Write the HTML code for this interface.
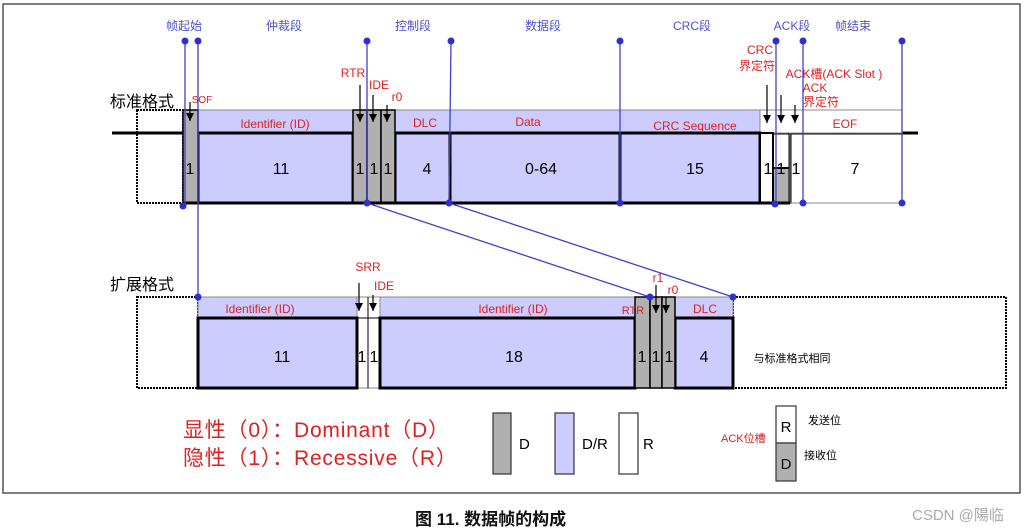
<!DOCTYPE html>
<html><head><meta charset="utf-8"><style>
html,body{margin:0;padding:0;background:#fff;}
svg{display:block;}
text{font-family:"Liberation Sans","Noto Sans CJK SC",sans-serif;}
</style></head><body>
<svg width="1027" height="531" viewBox="0 0 1027 531" xmlns="http://www.w3.org/2000/svg">
<defs><marker id="ar" markerWidth="8" markerHeight="8" refX="8" refY="4" orient="auto" markerUnits="userSpaceOnUse"><path d="M0,0 L8,4 L0,8 z" fill="#000"/></marker></defs>
<rect x="3" y="4" width="1017" height="489" fill="none" stroke="#555" stroke-width="1.5"/>

<g font-size="12" fill="#5050c8" text-anchor="middle">
<text x="184" y="30">帧起始</text><text x="284" y="30">仲裁段</text><text x="413" y="30">控制段</text>
<text x="543" y="30">数据段</text><text x="692" y="30">CRC段</text><text x="792" y="30">ACK段</text><text x="853" y="30">帧结束</text>
</g>
<text x="110" y="107" font-size="16" fill="#000">标准格式</text>
<text x="110" y="290" font-size="16" fill="#000">扩展格式</text>

<rect x="137" y="110" width="46" height="93" fill="#fff" stroke="#000" stroke-width="2" stroke-dasharray="2,1"/>
<line x1="112" y1="133" x2="918" y2="133" stroke="#000" stroke-width="3"/>
<rect x="198" y="110" width="155" height="23" fill="#ccccff" stroke="#888" stroke-width="1"/>
<rect x="395" y="110" width="365" height="23" fill="#ccccff" stroke="#888" stroke-width="1"/>
<rect x="760" y="110" width="142" height="23" fill="#fff" stroke="#888" stroke-width="1"/>
<rect x="198" y="133" width="155" height="70" fill="#ccccff" stroke="#000" stroke-width="3"/>
<rect x="395" y="133" width="55" height="70" fill="#ccccff" stroke="#000" stroke-width="3"/>
<rect x="450" y="133" width="170" height="70" fill="#ccccff" stroke="#000" stroke-width="3"/>
<rect x="620" y="133" width="140" height="70" fill="#ccccff" stroke="#000" stroke-width="3"/>
<rect x="183" y="110" width="15" height="93" fill="#b0b0b0" stroke="#000" stroke-width="1.5"/>
<rect x="353" y="110" width="14" height="93" fill="#b0b0b0" stroke="#000" stroke-width="1.5"/>
<rect x="367" y="110" width="14" height="93" fill="#b0b0b0" stroke="#000" stroke-width="1.5"/>
<rect x="381" y="110" width="14" height="93" fill="#b0b0b0" stroke="#000" stroke-width="1.5"/>
<rect x="760" y="133" width="13" height="70" fill="#fff" stroke="#000" stroke-width="2"/>
<rect x="773" y="168" width="17" height="35" fill="#b0b0b0" stroke="#000" stroke-width="2"/>
<line x1="773" y1="133" x2="773" y2="203" stroke="#000" stroke-width="2"/>
<line x1="790" y1="133" x2="790" y2="203" stroke="#000" stroke-width="3"/>
<rect x="790" y="133" width="112" height="70" fill="none" stroke="#888" stroke-width="1"/>
<line x1="183" y1="203" x2="790" y2="203" stroke="#000" stroke-width="3"/>

<rect x="137" y="297" width="61" height="91" fill="#fff" stroke="#000" stroke-width="2" stroke-dasharray="2,1"/>
<rect x="733" y="297" width="273" height="91" fill="#fff" stroke="#000" stroke-width="2" stroke-dasharray="2,1"/>
<rect x="198" y="297" width="535" height="91" fill="#fff" stroke="#888" stroke-width="1"/>
<rect x="198" y="297" width="159" height="21" fill="#ccccff" stroke="#888" stroke-width="1"/>
<rect x="380" y="297" width="255" height="21" fill="#ccccff" stroke="#888" stroke-width="1"/>
<rect x="675" y="297" width="58" height="21" fill="#ccccff" stroke="#888" stroke-width="1"/>
<rect x="198" y="318" width="159" height="70" fill="#ccccff" stroke="#000" stroke-width="3"/>
<rect x="380" y="318" width="255" height="70" fill="#ccccff" stroke="#000" stroke-width="3"/>
<rect x="675" y="318" width="58" height="70" fill="#ccccff" stroke="#000" stroke-width="3"/>
<line x1="368" y1="297" x2="368" y2="388" stroke="#000" stroke-width="1"/>
<line x1="357" y1="318" x2="380" y2="318" stroke="#000" stroke-width="1"/>
<rect x="635" y="297" width="15" height="91" fill="#b0b0b0" stroke="#000" stroke-width="1.5"/>
<rect x="650" y="297" width="12" height="91" fill="#b0b0b0" stroke="#000" stroke-width="1.5"/>
<rect x="662" y="297" width="13" height="91" fill="#b0b0b0" stroke="#000" stroke-width="1.5"/>

<g font-size="12" fill="#e02020" text-anchor="middle">
<text x="275" y="128">Identifier (ID)</text><text x="425" y="127">DLC</text><text x="528" y="126">Data</text>
<text x="695" y="130">CRC Sequence</text><text x="845" y="128">EOF</text>
<text x="353" y="77">RTR</text><text x="379" y="89">IDE</text><text x="397" y="101">r0</text>
<text x="202" y="103" font-size="10">SOF</text>
<text x="760" y="54">CRC</text><text x="757" y="70">界定符</text>
<text x="834" y="78">ACK槽(ACK Slot )</text><text x="815" y="92">ACK</text><text x="821" y="106">界定符</text>
<text x="633" y="314" font-size="11">RTR</text><text x="658" y="282">r1</text><text x="673" y="294">r0</text>
<text x="368" y="271">SRR</text><text x="384" y="290">IDE</text>
<text x="260" y="313">Identifier (ID)</text><text x="513" y="313">Identifier (ID)</text><text x="705" y="313">DLC</text>
</g>
<g stroke="#000" stroke-width="1.2" marker-end="url(#ar)">
<line x1="190" y1="102" x2="190" y2="121"/><line x1="360" y1="85" x2="360" y2="122"/>
<line x1="373" y1="95" x2="373" y2="122"/><line x1="387" y1="105" x2="387" y2="122"/>
<line x1="767" y1="85" x2="767" y2="123"/><line x1="781" y1="95" x2="781" y2="123"/><line x1="795" y1="105" x2="795" y2="123"/>
<line x1="359" y1="283" x2="359" y2="311"/><line x1="373" y1="295" x2="373" y2="311"/>
<line x1="656" y1="285" x2="656" y2="313"/><line x1="666" y1="297" x2="666" y2="313"/>
</g>
<g font-size="16" fill="#000" text-anchor="middle">
<text x="190" y="174">1</text><text x="281" y="174">11</text><text x="360" y="174">1</text><text x="374" y="174">1</text><text x="388" y="174">1</text>
<text x="427" y="174">4</text><text x="541" y="174">0-64</text><text x="695" y="174">15</text>
<text x="768" y="174">1</text><text x="781" y="174">1</text><text x="796" y="174">1</text><text x="855" y="174">7</text>
<text x="282" y="362">11</text><text x="362" y="362">1</text><text x="374" y="362">1</text><text x="514" y="362">18</text>
<text x="642" y="362">1</text><text x="656" y="362">1</text><text x="669" y="362">1</text><text x="704" y="362">4</text>
</g>
<text x="792" y="362" font-size="11" fill="#000" text-anchor="middle">与标准格式相同</text>

<g stroke="#4040d0" stroke-width="1.3" fill="none">
<line x1="185" y1="41" x2="185" y2="206"/><line x1="198" y1="41" x2="198" y2="297"/>
<line x1="367" y1="41" x2="367" y2="203"/><line x1="451" y1="41" x2="449" y2="203"/>
<line x1="620" y1="41" x2="620" y2="203"/><line x1="776" y1="41" x2="776" y2="204"/>
<line x1="803" y1="41" x2="803" y2="203"/><line x1="902" y1="41" x2="902" y2="203"/>
<line x1="367" y1="203" x2="650" y2="297"/><line x1="449" y1="203" x2="733" y2="297"/>
</g>
<g fill="#3030d0">
<circle cx="185" cy="41" r="3.5"/><circle cx="198" cy="41" r="3.5"/><circle cx="367" cy="41" r="3.5"/><circle cx="451" cy="41" r="3.5"/>
<circle cx="620" cy="41" r="3.5"/><circle cx="776" cy="41" r="3.5"/><circle cx="803" cy="41" r="3.5"/><circle cx="902" cy="41" r="3.5"/>
<circle cx="183" cy="206" r="3.5"/><circle cx="367" cy="203" r="3.5"/><circle cx="449" cy="203" r="3.5"/><circle cx="620" cy="203" r="3.5"/>
<circle cx="775" cy="204" r="3.5"/><circle cx="803" cy="203" r="3.5"/><circle cx="902" cy="203" r="3.5"/>
<circle cx="198" cy="297" r="3.5"/><circle cx="650" cy="297" r="3.5"/><circle cx="733" cy="297" r="3.5"/>
</g>

<text x="183" y="437" font-size="21" fill="#e02020" letter-spacing="0.8">显性（0）：Dominant（D）</text>
<text x="183" y="465" font-size="21" fill="#e02020" letter-spacing="0.8">隐性（1）：Recessive（R）</text>
<rect x="493" y="413" width="18" height="61" fill="#b0b0b0" stroke="#333" stroke-width="1.2"/>
<text x="519" y="449" font-size="15">D</text>
<rect x="555" y="413" width="19" height="61" fill="#ccccff" stroke="#333" stroke-width="1.2"/>
<text x="582" y="449" font-size="15">D/R</text>
<rect x="619" y="413" width="19" height="61" fill="#fff" stroke="#333" stroke-width="1.2"/>
<text x="643" y="449" font-size="15">R</text>
<text x="721" y="442" font-size="11" fill="#e02020">ACK位槽</text>
<rect x="776" y="406" width="20" height="37" fill="#fff" stroke="#333" stroke-width="1.2"/>
<rect x="776" y="443" width="20" height="38" fill="#b0b0b0" stroke="#333" stroke-width="1.2"/>
<text x="786" y="432" font-size="15" text-anchor="middle">R</text>
<text x="786" y="469" font-size="15" text-anchor="middle">D</text>
<text x="808" y="424" font-size="11">发送位</text>
<text x="804" y="459" font-size="11">接收位</text>

<text x="415" y="525" font-size="17" font-weight="bold" fill="#111">图 11.  数据帧的构成</text>
<text x="912" y="520" font-size="15" fill="#aaa">CSDN @陽临</text>
</svg>
</body></html>
